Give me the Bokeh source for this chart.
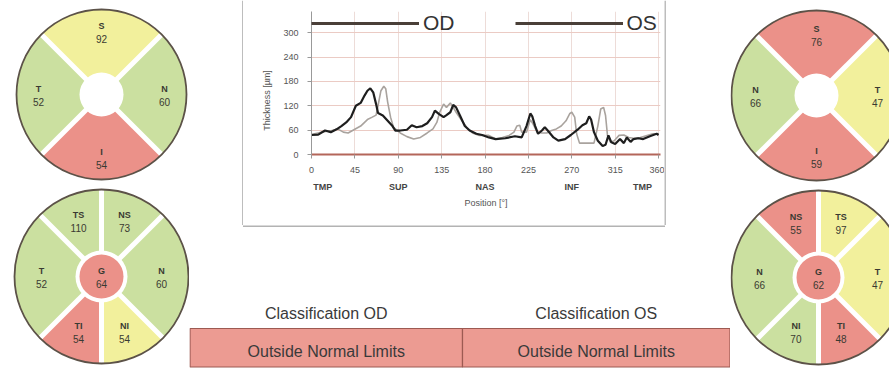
import numpy as np
from bokeh.plotting import figure
from bokeh.models import Range1d, FixedTicker, LinearAxis, Legend, LegendItem
from bokeh.layouts import row, column
from bokeh.embed import file_html
from bokeh.resources import INLINE
from bokeh.core.properties import value

FONT = "Liberation Sans"

# ---------------- data ----------------
POS_OD = [0, 7, 14, 20, 26, 31, 36, 41, 46, 51, 55, 58, 61, 64, 67, 69, 74, 79, 84, 87,
          92, 99, 104, 109, 115, 120, 125, 128, 132, 137, 140, 144, 147, 150, 154, 159, 164, 171, 177, 184,
          191, 201, 211, 218, 223, 227, 229, 232, 235, 239, 242, 245, 251, 256, 263, 269, 276, 281, 285, 288,
          290, 293, 297, 302, 305, 308, 311, 315, 320, 324, 327, 331, 334, 339, 344, 351, 358, 360]
THK_OD = [48, 49, 59, 55, 62, 70, 79, 92, 120, 127, 145, 157, 163, 153, 124, 102, 96, 83, 70, 59,
          59, 61, 72, 67, 70, 77, 92, 108, 100, 92, 97, 104, 122, 116, 96, 70, 59, 51, 48, 42,
          38, 40, 45, 42, 70, 101, 94, 70, 51, 59, 67, 59, 42, 34, 38, 48, 61, 72, 77, 94,
          86, 55, 34, 21, 24, 47, 30, 26, 38, 28, 42, 31, 38, 40, 38, 45, 51, 48]

POS_OS = [0, 10, 21, 27, 33, 38, 44, 51, 58, 63, 67, 69, 72, 75, 77, 79, 82, 85, 92, 99,
          106, 113, 120, 126, 130, 133, 137, 140, 144, 147, 150, 156, 161, 167, 174, 184, 191, 198, 205, 210,
          213, 216, 218, 223, 227, 230, 234, 239, 244, 249, 254, 259, 264, 268, 270, 273, 275, 278, 286, 293,
          297, 300, 303, 305, 307, 310, 314, 319, 324, 329, 334, 341, 348, 354, 360]
THK_OS = [49, 55, 59, 63, 55, 53, 61, 70, 86, 92, 97, 120, 157, 168, 162, 129, 92, 67, 53, 44,
          38, 42, 53, 63, 79, 104, 124, 116, 127, 116, 104, 83, 67, 53, 47, 47, 38, 42, 47, 55,
          70, 72, 55, 55, 86, 74, 55, 53, 53, 59, 63, 70, 83, 101, 104, 92, 51, 28, 28, 28,
          70, 112, 116, 96, 47, 30, 34, 47, 48, 42, 40, 42, 47, 51, 51]

X_TICKS = [0, 45, 90, 135, 180, 225, 270, 315, 360]
Y_TICKS = [0, 60, 120, 180, 240, 300]
REGION_TICKS = [0, 90, 180, 270, 360]
REGION_LABELS = ["TMP", "SUP", "NAS", "INF", "TMP"]
SERIES_NAMES = ["OD", "OS"]

# quadrant rings (sector mid-angle in degrees, counter-clockwise from right)
QUAD_MID = [90, 180, 270, 0]
QUAD_WIDTH = [90, 90, 90, 90]
OD_QUAD_NAMES = ["S", "T", "I", "N"]
OD_QUAD_VALUES = [92, 52, 54, 60]
OD_QUAD_STATUS = ["borderline", "normal", "outside", "normal"]
OS_QUAD_NAMES = ["S", "N", "I", "T"]
OS_QUAD_VALUES = [76, 66, 59, 47]
OS_QUAD_STATUS = ["outside", "normal", "outside", "borderline"]

# sector rings
SECT_MID = [67.5, 112.5, 180, 247.5, 292.5, 0]
SECT_WIDTH = [45, 45, 90, 45, 45, 90]
OD_SECT_NAMES = ["NS", "TS", "T", "TI", "NI", "N"]
OD_SECT_VALUES = [73, 110, 52, 54, 54, 60]
OD_SECT_STATUS = ["normal", "normal", "normal", "outside", "borderline", "normal"]
OD_GLOBAL = 64
OD_GLOBAL_STATUS = "outside"
OS_SECT_NAMES = ["TS", "NS", "N", "NI", "TI", "T"]
OS_SECT_VALUES = [97, 55, 66, 70, 48, 47]
OS_SECT_STATUS = ["borderline", "outside", "normal", "normal", "outside", "borderline"]
OS_GLOBAL = 62
OS_GLOBAL_STATUS = "outside"

CLASS_TITLES = ["Classification OD", "Classification OS"]
CLASS_RESULTS = ["Outside Normal Limits", "Outside Normal Limits"]

STATUS_COLORS = {"normal": "#cbe0a0", "borderline": "#f2f09c", "outside": "#eb9189"}

# ---------------- layout helpers ----------------
H = 369  # page height in px; layout coords use y up


def Y(y):
    return H - y


def canvas(x0, x1, y0, y1):
    f = figure(width=x1 - x0, height=y1 - y0,
               x_range=Range1d(x0, x1), y_range=Range1d(H - y1, H - y0),
               output_backend="svg", toolbar_location=None,
               x_axis_location=None, y_axis_location=None,
               min_border=0, outline_line_color=None,
               background_fill_color="white", border_fill_color="white")
    f.grid.visible = False
    return f


def draw_ring(f, cx, cy, r, mids, widths, names, values, status, label_r,
              center_val=None, center_status=None):
    cy = Y(cy)
    mids = np.array(mids, dtype=float)
    widths = np.array(widths, dtype=float)
    start = np.radians(mids - widths / 2)
    end = np.radians(mids + widths / 2)
    colors = [STATUS_COLORS[s] for s in status]
    n = len(mids)
    f.wedge(x=[cx] * n, y=[cy] * n, radius=r, start_angle=start, end_angle=end,
            fill_color=colors, line_color=None)
    bounds = np.unique(np.round(np.concatenate([start, end]) % (2 * np.pi), 6))
    f.ray(x=[cx] * len(bounds), y=[cy] * len(bounds), length=r, angle=bounds,
          line_color="white", line_width=5)
    if center_val is None:
        f.circle(x=[cx], y=[cy], radius=22, fill_color="white", line_color=None)
    else:
        f.circle(x=[cx], y=[cy], radius=26, fill_color="white", line_color=None)
        f.circle(x=[cx], y=[cy], radius=22, fill_color=STATUS_COLORS[center_status], line_color=None)
        f.text(x=[cx], y=[cy + 6], text=["G"], text_font=value(FONT), text_font_size="9px",
               text_font_style="bold", text_align="center", text_baseline="middle", text_color="#3a3a32")
        f.text(x=[cx], y=[cy - 7], text=[str(center_val)], text_font=value(FONT), text_font_size="10px",
               text_align="center", text_baseline="middle", text_color="#3a3a32")
    f.circle(x=[cx], y=[cy], radius=r, fill_color=None, line_color="#5c5248", line_width=1.8)
    lx = cx + label_r * np.cos(np.radians(mids))
    ly = cy + label_r * np.sin(np.radians(mids))
    f.text(x=lx, y=ly + 6, text=names, text_font=value(FONT), text_font_size="9px",
           text_font_style="bold", text_align="center", text_baseline="middle", text_color="#3a3a32")
    f.text(x=lx, y=ly - 7, text=[str(v) for v in values], text_font=value(FONT), text_font_size="10px",
           text_align="center", text_baseline="middle", text_color="#3a3a32")


BOX_COLOR = "#9a9a9a"

# ---------------- left column (OD rings) ----------------
left = canvas(0, 189, 0, 369)
draw_ring(left, 101, 94, 85, QUAD_MID, QUAD_WIDTH, OD_QUAD_NAMES, OD_QUAD_VALUES, OD_QUAD_STATUS, 63)
draw_ring(left, 101, 276, 87, SECT_MID, SECT_WIDTH, OD_SECT_NAMES, OD_SECT_VALUES, OD_SECT_STATUS, 60,
          OD_GLOBAL, OD_GLOBAL_STATUS)

# ---------------- right column (OS rings) ----------------
right = canvas(730, 889, 0, 369)
draw_ring(right, 816, 95, 85, QUAD_MID, QUAD_WIDTH, OS_QUAD_NAMES, OS_QUAD_VALUES, OS_QUAD_STATUS, 61)
draw_ring(right, 818, 277, 87, SECT_MID, SECT_WIDTH, OS_SECT_NAMES, OS_SECT_VALUES, OS_SECT_STATUS, 59,
          OS_GLOBAL, OS_GLOBAL_STATUS)

# ---------------- chart box side borders ----------------
gap_left = canvas(189, 243, 0, 225)
gap_left.line(x=[242.5, 242.5], y=[Y(0), Y(225)], line_color=BOX_COLOR, line_width=1.3)
gap_right = canvas(664, 730, 0, 225)
gap_right.line(x=[664.5, 664.5], y=[Y(0), Y(225)], line_color=BOX_COLOR, line_width=1.3)

# ---------------- classification table ----------------
bottom = canvas(189, 730, 225, 369)
bottom.line(x=[242.5, 664.5], y=[Y(225.5), Y(225.5)], line_color=BOX_COLOR, line_width=1.3)
TABLE_X = [189.5, 462, 729.5]
for i in range(2):
    x0, x1 = TABLE_X[i], TABLE_X[i + 1]
    bottom.quad(left=[x0], right=[x1], bottom=[Y(366.5)], top=[Y(328)],
                fill_color="#ec9b92", line_color="#9c5a52", line_width=1.2)
    bottom.text(x=[(x0 + x1) / 2], y=[Y(351)], text=[CLASS_RESULTS[i]], text_font=value(FONT),
                text_font_size="16px", text_align="center", text_baseline="middle", text_color="#3a3a3a")
    bottom.text(x=[(x0 + x1) / 2], y=[Y(313)], text=[CLASS_TITLES[i]], text_font=value(FONT),
                text_font_size="16px", text_align="center", text_baseline="middle", text_color="#3a3a3a")

# ---------------- thickness chart ----------------
chart = figure(width=421, height=225, x_range=Range1d(0, 362), y_range=Range1d(0, 352),
               output_backend="svg", toolbar_location=None,
               min_border_left=68, min_border_right=4, min_border_top=11, min_border_bottom=71,
               outline_line_color=None, background_fill_color="white", border_fill_color="white")

xa = chart.xaxis[0]
xa.ticker = FixedTicker(ticks=X_TICKS)
xa.axis_line_color = "#b4665a"
xa.axis_line_width = 2
xa.major_tick_line_color = "#999999"
xa.major_tick_out = 4
xa.major_tick_in = 0
xa.minor_tick_line_color = None
xa.major_label_standoff = 8
xa.major_label_text_font = FONT
xa.major_label_text_font_size = "9px"
xa.major_label_text_color = "#555555"

ya = chart.yaxis[0]
ya.ticker = FixedTicker(ticks=Y_TICKS)
ya.axis_line_color = "#999999"
ya.major_tick_line_color = "#999999"
ya.major_tick_out = 4
ya.major_tick_in = 0
ya.minor_tick_line_color = None
ya.major_label_standoff = 9
ya.major_label_text_font = FONT
ya.major_label_text_font_size = "9px"
ya.major_label_text_color = "#555555"
ya.axis_label = "Thickness [\u00b5m]" + "\u00a0" * 14
ya.axis_label_text_font = FONT
ya.axis_label_text_font_size = "9px"
ya.axis_label_text_font_style = "normal"
ya.axis_label_text_color = "#555555"
ya.axis_label_standoff = 8

lpad = "\u00a0" * 9
rpad = "\u00a0" * 5
overrides = {}
for t, lab in zip(REGION_TICKS, REGION_LABELS):
    if t == REGION_TICKS[0]:
        overrides[t] = lpad + lab
    elif t == REGION_TICKS[-1]:
        overrides[t] = lab + rpad
    else:
        overrides[t] = lab
region_axis = LinearAxis(ticker=FixedTicker(ticks=REGION_TICKS),
                         major_label_overrides=overrides,
                         axis_line_color=None, major_tick_line_color=None, minor_tick_line_color=None,
                         major_label_standoff=0, major_label_text_font=FONT,
                         major_label_text_font_size="9px", major_label_text_font_style="bold",
                         major_label_text_color="#444444",
                         axis_label="Position [\u00b0]", axis_label_text_font=FONT,
                         axis_label_text_font_size="9px", axis_label_text_font_style="normal",
                         axis_label_text_color="#555555", axis_label_standoff=3)
chart.add_layout(region_axis, "below")

chart.ygrid.grid_line_color = "#ebcbc4"
chart.xgrid.grid_line_color = "#eddcd8"

chart.line(POS_OS, THK_OS, line_color="#a9a39e", line_width=1.6)
chart.line(POS_OD, THK_OD, line_color="#1e1e1e", line_width=2.2)

nan2 = [float("nan"), float("nan")]
leg_od = chart.line(x=nan2, y=nan2, line_color="#4a3f38", line_width=3)
leg_os = chart.line(x=nan2, y=nan2, line_color="#4a3f38", line_width=3)
legend = Legend(items=[LegendItem(label=SERIES_NAMES[0], renderers=[leg_od]),
                       LegendItem(label=SERIES_NAMES[1], renderers=[leg_os])],
                orientation="horizontal", location="top_left",
                glyph_width=108, glyph_height=20, label_height=20, label_standoff=4,
                spacing=60, padding=0, margin=0, border_line_color=None,
                background_fill_alpha=0, label_text_font=FONT, label_text_font_size="21px",
                label_text_color="#333333", label_text_baseline="middle")
chart.add_layout(legend)

middle = column(row(column(gap_left), column(chart), column(gap_right)), row(bottom))
layout = row(left, middle, right)

with open("out.html", "w") as fh:
    fh.write(file_html(layout, INLINE))
